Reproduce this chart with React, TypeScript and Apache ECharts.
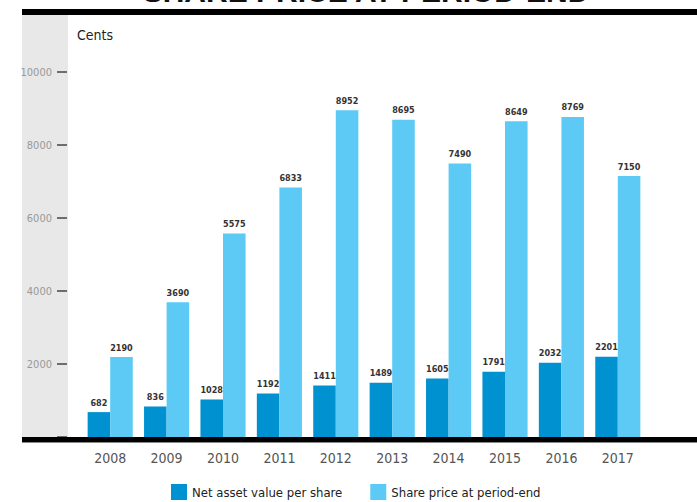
import React, { useEffect, useRef } from "react";
import * as echarts from "echarts";

const years = ["2008", "2009", "2010", "2011", "2012", "2013", "2014", "2015", "2016", "2017"];
const navPerShare = [682, 836, 1028, 1192, 1411, 1489, 1605, 1791, 2032, 2201];
const sharePrice = [2190, 3690, 5575, 6833, 8952, 8695, 7490, 8649, 8769, 7150];
const seriesNames = ["Net asset value per share", "Share price at period-end"];
const unitLabel = "Cents";
const titleText = "SHARE PRICE AT PERIOD-END";

const FONT = "'DejaVu Sans Condensed', 'Liberation Sans Narrow', 'Roboto', sans-serif";
const NAV_COLOR = "#0091d0";
const PRICE_COLOR = "#5ccaf5";

export default function App() {
  const ref = useRef<HTMLDivElement>(null);
  useEffect(() => {
    if (!ref.current) return;
    const chart = echarts.init(ref.current, null, { renderer: "svg" });
    const labelStyle = {
      show: true,
      position: "top",
      distance: 5,
      fontFamily: FONT,
      fontSize: 9,
      fontWeight: "bold",
      color: "#333",
    };
    chart.setOption({
      animation: false,
      backgroundColor: "#ffffff",
      textStyle: { fontFamily: FONT },
      grid: { left: 82, right: 51, top: 72, bottom: 65, containLabel: false },
      graphic: [
        { type: "rect", z: -10, shape: { x: 22, y: 15, width: 46, height: 422 }, style: { fill: "#e8e8e8" } },
        {
          type: "text",
          z: 1,
          x: 366,
          y: -9,
          style: {
            text: titleText,
            align: "center",
            verticalAlign: "middle",
            fontFamily: "'Liberation Sans', Arial, sans-serif",
            fontWeight: "bold",
            fontSize: 30,
            fill: "#111",
          },
        },
        { type: "rect", z: 10, shape: { x: 22, y: 9, width: 675, height: 6 }, style: { fill: "#000" } },
        { type: "rect", z: 10, shape: { x: 22, y: 437, width: 675, height: 5 }, style: { fill: "#000" } },
        { type: "rect", z: 10, shape: { x: 22, y: 442, width: 675, height: 1 }, style: { fill: "#888" } },
        {
          type: "text",
          z: 10,
          style: { x: 77, y: 35, text: unitLabel, verticalAlign: "middle", fontFamily: FONT, fontSize: 14, fill: "#222" },
        },
      ],
      legend: {
        left: 171,
        top: 484,
        padding: 0,
        itemWidth: 16,
        itemHeight: 16,
        itemGap: 28,
        icon: "rect",
        textStyle: { fontFamily: FONT, fontSize: 13, lineHeight: 16, color: "#222", padding: [0, 0, 0, 0] },
        data: seriesNames,
      },
      xAxis: {
        type: "category",
        data: years,
        axisLine: { show: false },
        axisTick: { show: false },
        axisLabel: { fontFamily: FONT, fontSize: 14, color: "#555", margin: 14 },
      },
      yAxis: {
        type: "value",
        min: 0,
        max: 10000,
        interval: 2000,
        offset: 15,
        axisLine: { show: false },
        axisTick: { show: true, length: 10, lineStyle: { color: "#444", width: 1.5 } },
        splitLine: { show: false },
        axisLabel: {
          fontFamily: FONT,
          fontSize: 11,
          color: "#999",
          margin: 15,
          formatter: (v: number) => (v === 0 ? "" : String(v)),
        },
      },
      series: [
        {
          name: seriesNames[0],
          type: "bar",
          data: navPerShare,
          barGap: "0%",
          barCategoryGap: "20%",
          itemStyle: { color: NAV_COLOR },
          label: labelStyle,
        },
        {
          name: seriesNames[1],
          type: "bar",
          data: sharePrice,
          barGap: "0%",
          barCategoryGap: "20%",
          itemStyle: { color: PRICE_COLOR },
          label: labelStyle,
        },
      ],
    });
    return () => chart.dispose();
  }, []);
  return (
    <div
      ref={ref}
      style={{ position: "fixed", left: 0, top: 0, width: 697, height: 502, background: "#fff" }}
    />
  );
}
